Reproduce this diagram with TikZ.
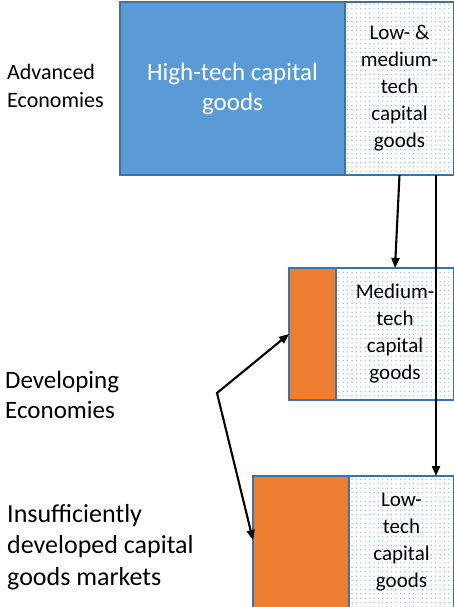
\documentclass[tikz,border=0pt]{standalone}
\usepackage{fontspec}
\setmainfont{Carlito}
\usetikzlibrary{positioning,arrows.meta,patterns.meta}

\definecolor{hiblue}{HTML}{5B9BD5}
\definecolor{edgeblue}{HTML}{41719C}
\definecolor{dotblue}{HTML}{7FB0DD}
\definecolor{orng}{HTML}{ED7D31}

\begin{document}
\begin{tikzpicture} [x=1pt,y=-1pt,
    block/.style={draw=edgeblue,line width=1.2pt,inner sep=0pt,outer sep=0pt,align=center},
    dotbox/.style={block,pattern={Dots[distance=4.4pt,radius=0.65pt]},pattern color=dotblue,
        font=\fontsize{21}{27}\selectfont},
    side/.style={anchor=west,inner sep=0pt,align=left},
    arr/.style={-{Triangle[length=10pt,width=8pt]},line width=2.1pt}]
    \clip (0,0) rectangle (454,607);

    \node[block,fill=hiblue,minimum width=225pt,minimum height=173pt,anchor=north west,
        text=white,font=\fontsize{25}{30}\selectfont] (ht) at (120,2) {High-tech capital\\goods};
    \node[dotbox,minimum width=109pt,minimum height=173pt,right=0pt of ht] (ld)
        {Low- \&\\medium-\\tech\\capital\\goods};

    \node[block,fill=orng,minimum width=47pt,minimum height=132pt,anchor=north west] (mo) at (289,268) {};
    \node[dotbox,minimum width=118pt,minimum height=132pt,right=0pt of mo] (md)
        {Medium-\\tech\\capital\\goods};

    \node[block,fill=orng,minimum width=96pt,minimum height=140pt,anchor=north west] (bo) at (253,476) {};
    \node[dotbox,minimum width=105pt,minimum height=132pt,anchor=north west] (bd) at (bo.north east)
        {Low-\\tech\\capital\\goods};

    \node[side,font=\fontsize{22}{28}\selectfont] (adv) at (7,86) {Advanced\\Economies};
    \node[side,font=\fontsize{25}{30}\selectfont] (dev) at (5,395) {Developing\\Economies};
    \node[side,font=\fontsize{26}{31.5}\selectfont] (ins) at (7,547)
        {Insufficiently\\developed capital\\goods markets};

    \coordinate (kink) at (217,393);

    \draw[arr] (ld.south) -- (md.north);
    \draw[arr] ([xshift=-18pt]ld.south east) -- ([xshift=-18pt]ld.south east |- bd.north);
    \draw[arr,{Triangle[length=10pt,width=8pt]}-{Triangle[length=10pt,width=8pt]}]
        (mo.west) -- (kink) -- ([yshift=6pt]bo.west);
\end{tikzpicture}
\end{document}
